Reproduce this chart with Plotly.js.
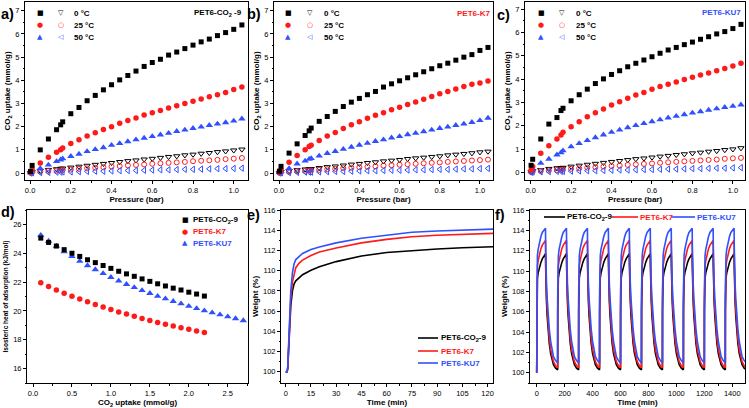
<!DOCTYPE html>
<html>
<head>
<meta charset="utf-8">
<script src="https://cdn.plot.ly/plotly-3.0.1.min.js"></script>
<style>
  html, body { margin: 0; padding: 0; background: #fff; }
  #chart { width: 749px; height: 408px; }
</style>
</head>
<body>
<div id="chart"></div>
<script>
// Pression (bar) commune aux isothermes a-c
const pressure = [0.002, 0.01, 0.05, 0.09, 0.13, 0.15, 0.16, 0.2, 0.24, 0.28, 0.32, 0.36, 0.4, 0.44, 0.48,
  0.52, 0.56, 0.6, 0.64, 0.68, 0.72, 0.76, 0.8, 0.84, 0.88, 0.92, 0.96, 1.0, 1.04];

// a) PET6-CO2-9
const aCo2_0  = [0.07, 0.33, 1.0, 1.47, 1.87, 2.08, 2.21, 2.56, 2.83, 3.12, 3.35, 3.59, 3.81, 4.02, 4.21, 4.40, 4.60, 4.77, 4.91, 5.09, 5.22, 5.37, 5.52, 5.66, 5.78, 5.93, 6.06, 6.2, 6.39];
const aCo2_25 = [0.05, 0.15, 0.43, 0.68, 0.9, 1.0, 1.08, 1.27, 1.44, 1.6, 1.74, 1.88, 2.0, 2.15, 2.27, 2.38, 2.5, 2.6, 2.7, 2.81, 2.9, 3.0, 3.1, 3.2, 3.29, 3.38, 3.48, 3.6, 3.71];
const aCo2_50 = [0.02, 0.1, 0.2, 0.35, 0.5, 0.57, 0.62, 0.72, 0.82, 0.93, 1.02, 1.1, 1.2, 1.28, 1.36, 1.44, 1.51, 1.58, 1.65, 1.72, 1.8, 1.86, 1.93, 1.99, 2.06, 2.12, 2.18, 2.25, 2.34];
const aOpen_0  = [0.01, 0.05, 0.1, 0.14, 0.17, 0.19, 0.2, 0.24, 0.28, 0.32, 0.36, 0.4, 0.44, 0.48, 0.52, 0.55, 0.59, 0.62, 0.66, 0.7, 0.73, 0.77, 0.8, 0.84, 0.87, 0.91, 0.94, 0.98, 1.02];
const aOpen_25 = [0.01, 0.03, 0.06, 0.09, 0.11, 0.12, 0.13, 0.15, 0.18, 0.2, 0.23, 0.25, 0.28, 0.3, 0.33, 0.35, 0.37, 0.4, 0.42, 0.44, 0.46, 0.48, 0.51, 0.53, 0.55, 0.57, 0.6, 0.62, 0.65];
const aOpen_50 = [0, 0.01, 0.02, 0.03, 0.04, 0.04, 0.05, 0.05, 0.06, 0.07, 0.08, 0.08, 0.09, 0.1, 0.11, 0.11, 0.12, 0.13, 0.14, 0.14, 0.15, 0.16, 0.16, 0.17, 0.18, 0.19, 0.19, 0.2, 0.21];

// b) PET6-K7
const bCo2_0  = [0.08, 0.29, 0.86, 1.26, 1.62, 1.82, 1.94, 2.23, 2.44, 2.66, 2.87, 3.06, 3.22, 3.38, 3.52, 3.71, 3.85, 3.98, 4.11, 4.24, 4.37, 4.5, 4.63, 4.74, 4.87, 5.0, 5.11, 5.29, 5.42];
const bCo2_25 = [0.04, 0.15, 0.47, 0.76, 1.0, 1.15, 1.2, 1.4, 1.6, 1.75, 1.92, 2.08, 2.21, 2.36, 2.49, 2.6, 2.73, 2.84, 2.96, 3.07, 3.18, 3.3, 3.42, 3.52, 3.63, 3.73, 3.83, 3.88, 3.97];
const bCo2_50 = [0.02, 0.08, 0.2, 0.4, 0.52, 0.6, 0.63, 0.74, 0.85, 0.94, 1.03, 1.12, 1.21, 1.29, 1.37, 1.44, 1.52, 1.58, 1.66, 1.72, 1.79, 1.86, 1.93, 1.99, 2.06, 2.12, 2.19, 2.27, 2.37];
const bOpen_0  = [0.01, 0.05, 0.09, 0.13, 0.16, 0.17, 0.18, 0.22, 0.26, 0.29, 0.33, 0.37, 0.4, 0.44, 0.47, 0.51, 0.54, 0.57, 0.61, 0.64, 0.67, 0.7, 0.73, 0.77, 0.8, 0.83, 0.86, 0.9, 0.93];
const bOpen_25 = [0.01, 0.03, 0.05, 0.08, 0.1, 0.11, 0.11, 0.14, 0.16, 0.18, 0.21, 0.23, 0.25, 0.27, 0.29, 0.32, 0.34, 0.36, 0.38, 0.4, 0.42, 0.44, 0.46, 0.48, 0.5, 0.52, 0.54, 0.56, 0.58];
const bOpen_50 = [0, 0.01, 0.02, 0.03, 0.04, 0.04, 0.04, 0.05, 0.06, 0.07, 0.07, 0.08, 0.09, 0.1, 0.1, 0.11, 0.12, 0.12, 0.13, 0.14, 0.14, 0.15, 0.16, 0.16, 0.17, 0.18, 0.18, 0.19, 0.2];

// c) PET6-KU7
const cCo2_0  = [0.3, 0.56, 1.43, 2.07, 2.35, 2.65, 2.75, 3.07, 3.33, 3.57, 3.81, 4.01, 4.2, 4.36, 4.53, 4.68, 4.82, 4.96, 5.11, 5.25, 5.36, 5.48, 5.59, 5.71, 5.82, 5.94, 6.04, 6.17, 6.35];
const cCo2_25 = [0.1, 0.25, 0.82, 1.14, 1.43, 1.6, 1.72, 1.96, 2.17, 2.39, 2.56, 2.72, 2.89, 3.03, 3.18, 3.32, 3.43, 3.56, 3.68, 3.78, 3.88, 3.98, 4.08, 4.18, 4.26, 4.36, 4.46, 4.56, 4.68];
const cCo2_50 = [0.05, 0.15, 0.39, 0.57, 0.75, 0.84, 0.93, 1.1, 1.24, 1.37, 1.49, 1.61, 1.72, 1.82, 1.92, 2.01, 2.1, 2.18, 2.26, 2.34, 2.41, 2.48, 2.55, 2.61, 2.67, 2.73, 2.79, 2.84, 2.9];
const cOpen_0  = [0.01, 0.06, 0.1, 0.15, 0.18, 0.19, 0.2, 0.25, 0.29, 0.33, 0.37, 0.41, 0.45, 0.49, 0.53, 0.57, 0.6, 0.64, 0.68, 0.71, 0.75, 0.78, 0.82, 0.85, 0.89, 0.92, 0.96, 0.99, 1.04];
const cOpen_25 = [0.01, 0.03, 0.06, 0.08, 0.1, 0.11, 0.12, 0.15, 0.17, 0.2, 0.22, 0.25, 0.27, 0.29, 0.32, 0.34, 0.36, 0.38, 0.41, 0.43, 0.45, 0.47, 0.49, 0.51, 0.53, 0.55, 0.58, 0.6, 0.62];
const cOpen_50 = [0, 0.01, 0.02, 0.03, 0.04, 0.04, 0.04, 0.05, 0.06, 0.07, 0.07, 0.08, 0.09, 0.1, 0.1, 0.11, 0.12, 0.12, 0.13, 0.14, 0.14, 0.15, 0.16, 0.16, 0.17, 0.18, 0.18, 0.19, 0.2];

// d) chaleur isostérique
const uptakeShort = [0.1, 0.2, 0.3, 0.4, 0.5, 0.6, 0.7, 0.8, 0.9, 1.0, 1.1, 1.2, 1.3, 1.4, 1.5, 1.6, 1.7, 1.8, 1.9, 2.0, 2.1, 2.2];
const uptakeLong  = [0.1, 0.2, 0.3, 0.4, 0.5, 0.6, 0.7, 0.8, 0.9, 1.0, 1.1, 1.2, 1.3, 1.4, 1.5, 1.6, 1.7, 1.8, 1.9, 2.0, 2.1, 2.2, 2.3, 2.4, 2.5, 2.6, 2.7];
const qstCo2 = [25.05, 24.75, 24.5, 24.25, 24.0, 23.78, 23.55, 23.35, 23.15, 22.95, 22.75, 22.57, 22.4, 22.22, 22.05, 21.88, 21.73, 21.58, 21.45, 21.3, 21.17, 21.03];
const qstK7  = [21.95, 21.7, 21.45, 21.23, 21.02, 20.82, 20.63, 20.45, 20.27, 20.1, 19.93, 19.78, 19.63, 19.48, 19.34, 19.2, 19.07, 18.95, 18.83, 18.72, 18.6, 18.5];
const qstKU7 = [25.25, 24.85, 24.5, 24.12, 23.78, 23.45, 23.15, 22.87, 22.6, 22.33, 22.08, 21.85, 21.63, 21.42, 21.22, 21.02, 20.85, 20.67, 20.5, 20.33, 20.17, 20.02, 19.88, 19.74, 19.6, 19.47, 19.33];

// e) cinétique d'adsorption
const timeE = [0, 0.8, 1.2, 2, 3, 4, 5, 6, 8, 10, 15, 20, 30, 45, 60, 75, 90, 105, 125];
const wCo2E = [100, 100, 100.3, 103.0, 106.5, 108.0, 108.7, 109.0, 109.3, 109.6, 110.05, 110.4, 110.9, 111.45, 111.8, 112.0, 112.15, 112.27, 112.38];
const wK7E  = [100, 100, 100.4, 103.5, 107.2, 108.9, 109.8, 110.3, 110.75, 111.05, 111.5, 111.85, 112.25, 112.75, 113.1, 113.35, 113.5, 113.6, 113.7];
const wKU7E = [100, 100, 100.5, 104.0, 108.0, 109.8, 110.7, 111.1, 111.45, 111.7, 112.1, 112.35, 112.75, 113.2, 113.5, 113.8, 113.92, 114.02, 114.12];

// f) cycles adsorption/désorption : profil d'un cycle et débuts de cycle
const cycleStart = [0, 150, 300, 450, 600, 750, 900, 1050, 1200, 1350];
const cycleTau = [0, 0.5, 2, 5, 10, 20, 30, 40, 50, 63, 64, 66, 70, 75, 80, 90, 100, 110, 120, 135, 149.5];
const cycCo2 = [100.3, 106, 108.8, 109.3, 109.8, 110.4, 110.85, 111.2, 111.45, 111.7, 110.5, 108.5, 107.0, 105.6, 104.5, 102.9, 101.9, 101.2, 100.8, 100.45, 100.3];
const cycK7  = [100.5, 107, 109.8, 110.5, 111.0, 111.7, 112.2, 112.55, 112.8, 113.0, 111.5, 109.5, 107.8, 106.3, 105.1, 103.4, 102.3, 101.6, 101.1, 100.7, 100.5];
const cycKU7 = [101.0, 108, 110.6, 111.5, 112.1, 112.9, 113.4, 113.8, 114.0, 114.2, 112.5, 110.5, 108.8, 107.3, 106.0, 104.3, 103.1, 102.2, 101.6, 101.2, 101.0];

const BLACK = '#000000';
const RED = '#ff1a1a';
const BLUE = '#3050ff';
const FONT = 'Liberation Sans, Arial, sans-serif';

function pts(x, y, ax, symbol, color, size, lw) {
  return {
    x: x, y: y, xaxis: 'x' + ax, yaxis: 'y' + ax,
    type: 'scatter', mode: 'markers', showlegend: false, hoverinfo: 'skip',
    marker: { symbol: symbol, color: color, size: size, line: { color: color, width: lw } }
  };
}

function curve(x, y, ax, color) {
  return {
    x: x, y: y, xaxis: 'x' + ax, yaxis: 'y' + ax,
    type: 'scatter', mode: 'lines', showlegend: false, hoverinfo: 'skip',
    line: { color: color, width: 1.6 }
  };
}

function cycles(profile) {
  const xs = [0], ys = [100];
  cycleStart.forEach(function (t0) {
    cycleTau.forEach(function (tau, i) {
      xs.push(t0 + tau);
      ys.push(profile[i]);
    });
  });
  return { x: xs, y: ys };
}

const traces = [];
[[aCo2_0, aCo2_25, aCo2_50, aOpen_0, aOpen_25, aOpen_50, ''],
 [bCo2_0, bCo2_25, bCo2_50, bOpen_0, bOpen_25, bOpen_50, '2'],
 [cCo2_0, cCo2_25, cCo2_50, cOpen_0, cOpen_25, cOpen_50, '3']].forEach(function (p) {
  const ax = p[6];
  traces.push(pts(pressure, p[3], ax, 'triangle-down-open', BLACK, 5.5, 1));
  traces.push(pts(pressure, p[4], ax, 'circle-open', RED, 5, 1));
  traces.push(pts(pressure, p[5], ax, 'triangle-left-open', BLUE, 5.5, 1));
  traces.push(pts(pressure, p[2], ax, 'triangle-up', BLUE, 6.5, 0));
  traces.push(pts(pressure, p[1], ax, 'circle', RED, 5.5, 0));
  traces.push(pts(pressure, p[0], ax, 'square', BLACK, 5, 0));
});

traces.push(pts(uptakeShort, qstK7, '4', 'circle', RED, 5.5, 0));
traces.push(pts(uptakeLong, qstKU7, '4', 'triangle-up', BLUE, 6.5, 0));
traces.push(pts(uptakeShort, qstCo2, '4', 'square', BLACK, 5, 0));

traces.push(curve(timeE, wCo2E, '5', BLACK));
traces.push(curve(timeE, wK7E, '5', RED));
traces.push(curve(timeE, wKU7E, '5', BLUE));

const fCo2 = cycles(cycCo2), fK7 = cycles(cycK7), fKU7 = cycles(cycKU7);
traces.push(curve(fCo2.x, fCo2.y, '6', BLACK));
traces.push(curve(fK7.x, fK7.y, '6', RED));
traces.push(curve(fKU7.x, fKU7.y, '6', BLUE));

function axis(domain, range, dtick, minorDtick, titleText, standoff, fmt, titleSize) {
  const a = {
    domain: domain, range: range, dtick: dtick, tick0: 0,
    showline: true, mirror: true, linecolor: BLACK, linewidth: 1,
    ticks: 'outside', ticklen: 3, tickwidth: 1, tickcolor: BLACK,
    showgrid: false, zeroline: false, fixedrange: true,
    tickfont: { family: FONT, size: 7.5, color: BLACK },
    minor: { dtick: minorDtick, ticks: 'outside', ticklen: 1.5, tickcolor: BLACK, showgrid: false },
    title: { text: titleText, standoff: standoff, font: { family: FONT, size: titleSize || 8, color: BLACK, weight: 'bold' } }
  };
  if (fmt) a.tickformat = fmt;
  return a;
}

const W = 749, H = 408;
const dx = (l, r) => [l / W, r / W];
const dy = (t, b) => [1 - b / H, 1 - t / H];

const co2Title = 'CO<sub>2</sub> uptake (mmol/g)';
const layout = {
  width: W, height: H,
  margin: { l: 0, r: 0, t: 0, b: 0 },
  paper_bgcolor: '#ffffff', plot_bgcolor: '#ffffff',
  showlegend: false,
  font: { family: FONT, color: BLACK },
  xaxis:  axis(dx(25, 248), [-0.025, 1.07], 0.2, 0.1, 'Pressure (bar)', 2, '.1f'),
  yaxis:  axis(dy(2, 180), [-0.3, 7.38], 1, 0.5, co2Title, 3),
  xaxis2: axis(dx(274, 493), [-0.025, 1.065], 0.2, 0.1, 'Pressure (bar)', 2, '.1f'),
  yaxis2: axis(dy(2, 180), [-0.3, 7.38], 1, 0.5, co2Title, 3),
  xaxis3: axis(dx(525, 745), [-0.028, 1.06], 0.2, 0.1, 'Pressure (bar)', 2, '.1f'),
  yaxis3: axis(dy(2, 180), [-0.33, 7.31], 1, 0.5, co2Title, 3),
  xaxis4: axis(dx(27, 248), [-0.077, 2.76], 0.5, 0.25, co2Title, 2, '.1f'),
  yaxis4: axis(dy(210, 383), [15, 27], 2, 1, 'Isosteric heat of adsorption (kJ/mol)', 3, null, 6.5),
  xaxis5: axis(dx(281, 493), [-2.8, 123.2], 15, 7.5, 'Time (min)', 2),
  yaxis5: axis(dy(210, 383), [98.9, 116], 2, 1, 'Weight (%)', 3),
  xaxis6: axis(dx(530, 745), [-48, 1491], 200, 100, 'Time (min)', 2),
  yaxis6: axis(dy(210, 383), [99, 116], 2, 1, 'Weight (%)', 3),
  annotations: [],
  shapes: []
};
['', '2', '3', '4', '5', '6'].forEach(function (s) {
  layout['xaxis' + s].anchor = 'y' + s;
  layout['yaxis' + s].anchor = 'x' + s;
});

function note(x, y, text, opts) {
  const o = opts || {};
  layout.annotations.push({
    xref: 'paper', yref: 'paper', x: x / W, y: 1 - y / H,
    xanchor: o.xanchor || 'left', yanchor: 'middle', showarrow: false,
    borderpad: 0,
    text: text,
    font: { family: o.family || FONT, size: o.size || 8, color: o.color || BLACK, weight: o.weight || 'bold' }
  });
}

// lettres des panneaux
[['a)', 0, 14], ['b)', 246, 14], ['c)', 496, 15], ['d)', 0, 212], ['e)', 246, 215], ['f)', 494, 215]].forEach(function (l) {
  note(l[1], l[2], l[0], { size: 14.5 });
});

// titres a-c
note(243, 13, 'PET6-CO<sub>2</sub> -9', { xanchor: 'right' });
note(491, 13, 'PET6-K7', { xanchor: 'right', color: RED });
note(742, 12, 'PET6-KU7', { xanchor: 'right', color: BLUE });

// légendes a-c (symboles)
const GLYPH = 'DejaVu Sans, sans-serif';
[[40, 61, 73], [288, 310, 323], [541, 562, 575]].forEach(function (c) {
  const rows = [[13, '\u25A0', BLACK, '\u25BD', BLACK, '0 \u00B0C'],
                [25, '\u25CF', RED, '\u25CB', RED, '25 \u00B0C'],
                [37, '\u25B2', BLUE, '\u25C1', BLUE, '50 \u00B0C']];
  rows.forEach(function (r) {
    note(c[0], r[0], r[1], { xanchor: 'center', family: GLYPH, size: 7, color: r[2], weight: 'normal' });
    note(c[1], r[0], r[3], { xanchor: 'center', family: GLYPH, size: 7, color: r[4], weight: 'normal' });
    note(c[2], r[0], r[5], {});
  });
});

// légende d
[[220, '\u25A0', BLACK, 'PET6-CO<sub>2</sub>-9'], [231.5, '\u25CF', RED, 'PET6-K7'], [243, '\u25B2', BLUE, 'PET6-KU7']].forEach(function (r) {
  note(185, r[0], r[1], { xanchor: 'center', family: GLYPH, size: 7, color: r[2], weight: 'normal' });
  note(192, r[0], r[3], { color: r[2] });
});

// légende e
function legLine(x0, x1, y, color) {
  layout.shapes.push({ type: 'line', xref: 'paper', yref: 'paper', x0: x0 / W, x1: x1 / W, y0: 1 - y / H, y1: 1 - y / H,
    line: { color: color, width: 1.6 } });
}
[[338, BLACK, 'PET6-CO<sub>2</sub>-9'], [351, RED, 'PET6-K7'], [363, BLUE, 'PET6-KU7']].forEach(function (r) {
  legLine(418, 438, r[0], r[1]);
  note(440, r[0], r[2], { color: r[1] });
});

// légende f
legLine(544, 565, 217, BLACK); note(566, 217, 'PET6-CO<sub>2</sub>-9');
legLine(612, 638, 217, RED); note(639, 217, 'PET6-K7', { color: RED });
legLine(671, 695, 217, BLUE); note(696, 217, 'PET6-KU7', { color: BLUE });

Plotly.newPlot('chart', traces, layout, { staticPlot: true, displayModeBar: false });
</script>
</body>
</html>
